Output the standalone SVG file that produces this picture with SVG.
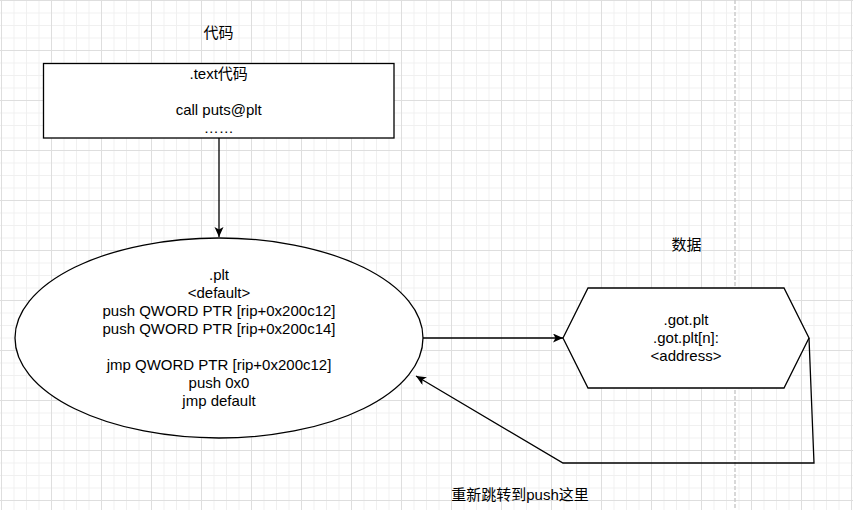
<svg xmlns="http://www.w3.org/2000/svg" width="853" height="510" viewBox="0 0 853 510">
<defs>
<pattern id="minor" width="12.5" height="12.5" x="1" y="0" patternUnits="userSpaceOnUse">
<path d="M0 0.5H12.5M0.5 0V12.5" fill="none" stroke="#f0f0f0" stroke-width="1"/>
</pattern>
<pattern id="major" width="50" height="50" x="1" y="0" patternUnits="userSpaceOnUse">
<path d="M0 0.5H50M0.5 0V50" fill="none" stroke="#dedede" stroke-width="1"/>
</pattern>
<marker id="arr" markerUnits="userSpaceOnUse" markerWidth="11" markerHeight="10" refX="10" refY="4.5" orient="auto">
<path d="M0 0L10 4.5L0 9L2.5 4.5Z" fill="#000"/>
</marker>
</defs>
<style>
.t{font-family:"Liberation Sans","Noto Sans CJK SC",sans-serif;font-size:15px;fill:#000;text-anchor:middle}
.s{fill:#fff;stroke:#000;stroke-width:1.3}
.c{fill:none;stroke:#000;stroke-width:1.3}
</style>
<rect width="853" height="510" fill="#fff"/>
<rect width="853" height="510" fill="url(#minor)"/>
<rect width="853" height="510" fill="url(#major)"/>
<line x1="735" y1="0" x2="735" y2="510" stroke="#cccccc" stroke-width="1.5" stroke-dasharray="4 2"/>

<g id="label-code">
<text class="t" x="218.5" y="38">代码</text>
</g>
<g id="label-data">
<text class="t" x="686.5" y="250">数据</text>
</g>

<g id="text-box">
<rect class="s" x="43.5" y="63.5" width="350.5" height="74.5"/>
<text class="t" x="218.7" y="79">.text代码</text>
<text class="t" x="218.7" y="115">call puts@plt</text>
<text class="t" x="218.7" y="133">……</text>
</g>

<g id="plt">
<ellipse class="s" cx="219" cy="338" rx="204" ry="100"/>
<text class="t" x="219" y="280">.plt</text>
<text class="t" x="219" y="298">&lt;default&gt;</text>
<text class="t" x="219" y="316">push QWORD PTR [rip+0x200c12]</text>
<text class="t" x="219" y="334">push QWORD PTR [rip+0x200c14]</text>
<text class="t" x="219" y="370">jmp QWORD PTR [rip+0x200c12]</text>
<text class="t" x="219" y="388">push 0x0</text>
<text class="t" x="219" y="406">jmp default</text>
</g>

<g id="got">
<polygon class="s" points="563,338 588,288 784,288 809,338 784,388 588,388"/>
<text class="t" x="686" y="325">.got.plt</text>
<text class="t" x="686" y="343">.got.plt[n]:</text>
<text class="t" x="686" y="361">&lt;address&gt;</text>
</g>

<g id="connectors">
<path class="c" d="M219 138V237" marker-end="url(#arr)"/>
<path class="c" d="M423 338H563" marker-end="url(#arr)"/>
<path class="c" d="M809 338L814 463H563L416 376" marker-end="url(#arr)"/>
</g>

<g id="label-return">
<text class="t" x="520" y="500">重新跳转到push这里</text>
</g>
</svg>
